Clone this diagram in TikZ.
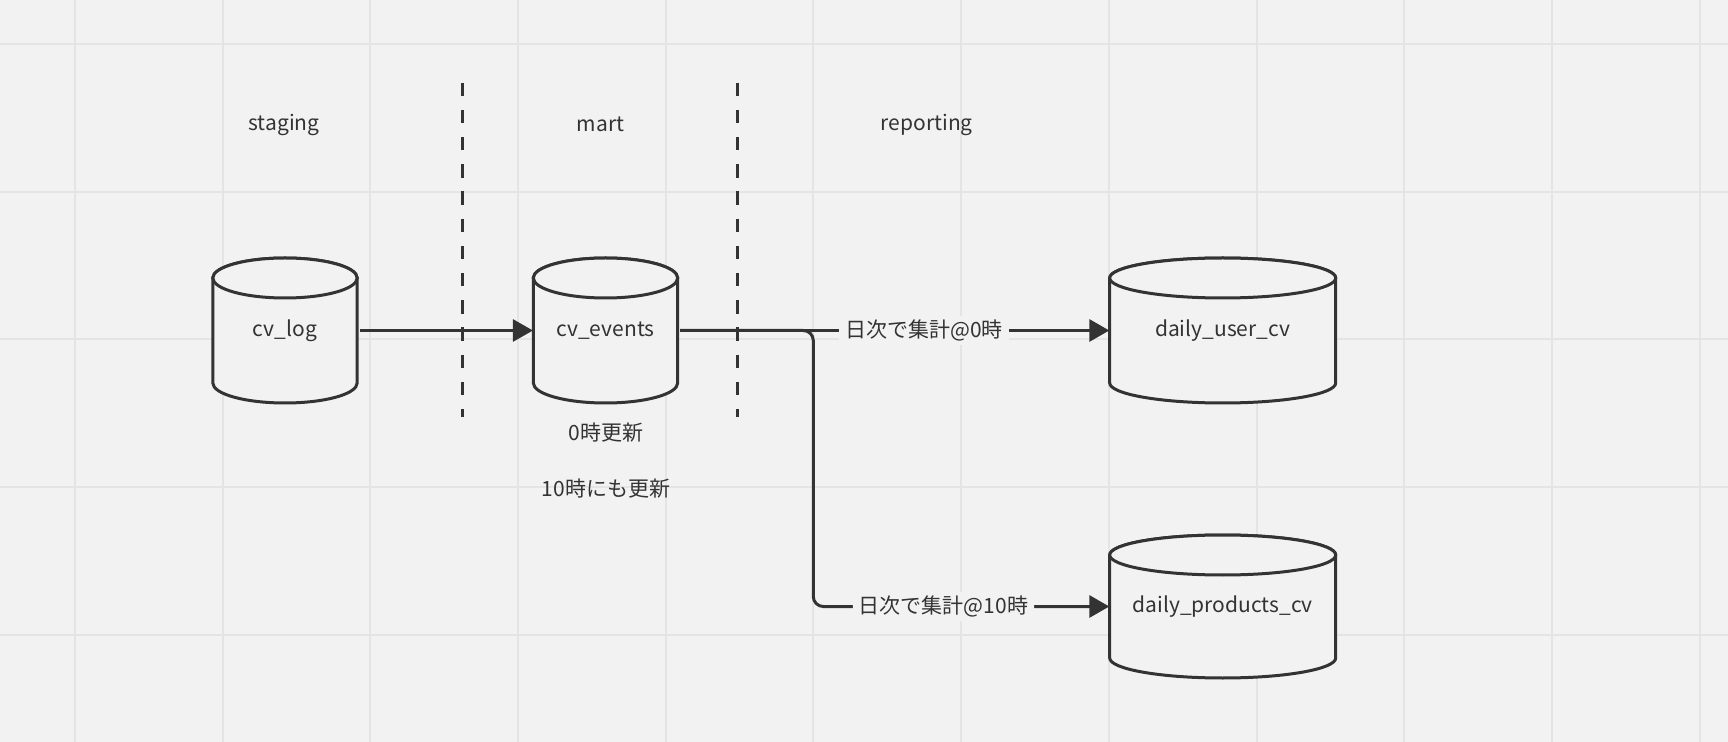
\documentclass[tikz,border=0pt]{standalone}
\usepackage{fontspec}
\newfontfamily\jpfont{Noto Sans CJK JP}
\usetikzlibrary{arrows.meta}
\definecolor{bg}{HTML}{F2F2F2}
\definecolor{gridc}{HTML}{E4E4E4}
\definecolor{ink}{HTML}{333333}
\newcommand\dbcyl[6]{% name, cx, top, bottom, half width (px), text
  \path[cyl] ({#2-#5},{#3+20}) -- ({#2-#5},{#4-20})
    arc[start angle=180,end angle=360,x radius={#5*0.5pt},y radius=10pt]
    -- ({#2+#5},{#3+20})
    arc[start angle=0,end angle=180,x radius={#5*0.5pt},y radius=10pt] -- cycle;
  \draw[cyl] ({#2},{#3+20}) ellipse[x radius={#5*0.5pt},y radius=10pt];
  \node[dbbox, minimum width={#5*1pt}, minimum height={(#4-#3)*0.5pt}] (#1) at ({#2},{(#3+#4)/2}) {#6};
}
\begin{document}
\begin{tikzpicture}[x=0.5pt,y=-0.5pt,
  txt/.style={font=\jpfont\fontsize{10.5pt}{12pt}\selectfont, text=ink},
  dbbox/.style={txt, inner sep=0pt},
  cyl/.style={draw=ink, line width=1.5pt, fill=bg},
  conn/.style={draw=ink, line width=1.5pt},
  arr/.style={conn, shorten <=1pt, -{Triangle[length=10pt,width=11pt]}},
  lbl/.style={txt, fill=bg, inner xsep=3pt, inner ysep=2pt},
  divider/.style={draw=ink, line width=1.4pt, dash pattern=on 6.7pt off 6.9pt},
  gridline/.style={draw=gridc, line width=1pt}]
\useasboundingbox (0,0) rectangle (1728,742);
\fill[bg] (0,0) rectangle (1728,742);
\foreach \i in {0,...,11} \draw[gridline] ({74.9+147.7*\i},0) -- ({74.9+147.7*\i},742);
\foreach \i in {0,...,4} \draw[gridline] (0,{44+147.7*\i}) -- (1728,{44+147.7*\i});

% layer headings
\node[txt] (staging) at (284,124.5) {staging};
\node[txt] (mart) at (600.6,124.5) {mart};
\node[txt] (reporting) at (926.8,124.5) {reporting};

% dividers
\coordinate (d1t) at (462.8,82.6);
\coordinate (d1b) at (462.8,417);
\coordinate (d2t) at (737.2,82.6);
\coordinate (d2b) at (737.2,417);
\draw[divider] (d1t) -- (d1b);
\draw[divider] (d2t) -- (d2b);

% tables
\dbcyl{cvlog}{285}{258}{403}{72.2}{cv\_log}
\dbcyl{cvevents}{605.5}{258}{403}{72.2}{cv\_events}
\dbcyl{duc}{1222.7}{258}{403}{113}{daily\_user\_cv}
\dbcyl{dpc}{1222.7}{535}{678}{113}{daily\_products\_cv}

% notes
\node[txt] (n0) at (606,433) {0時更新};
\node[txt] (n10) at (606,489) {10時にも更新};

% connectors
\coordinate (bend) at (813.3,606.5);
\draw[arr] (cvlog.east) -- (cvevents.west);
\draw[arr, rounded corners=5pt] (cvevents.east) -| (bend) -- node[lbl, pos=0.44] {日次で集計@10時} (dpc.west);
\draw[arr] (cvevents.east) -- node[lbl, pos=0.57] {日次で集計@0時} (duc.west);
\end{tikzpicture}
\end{document}
